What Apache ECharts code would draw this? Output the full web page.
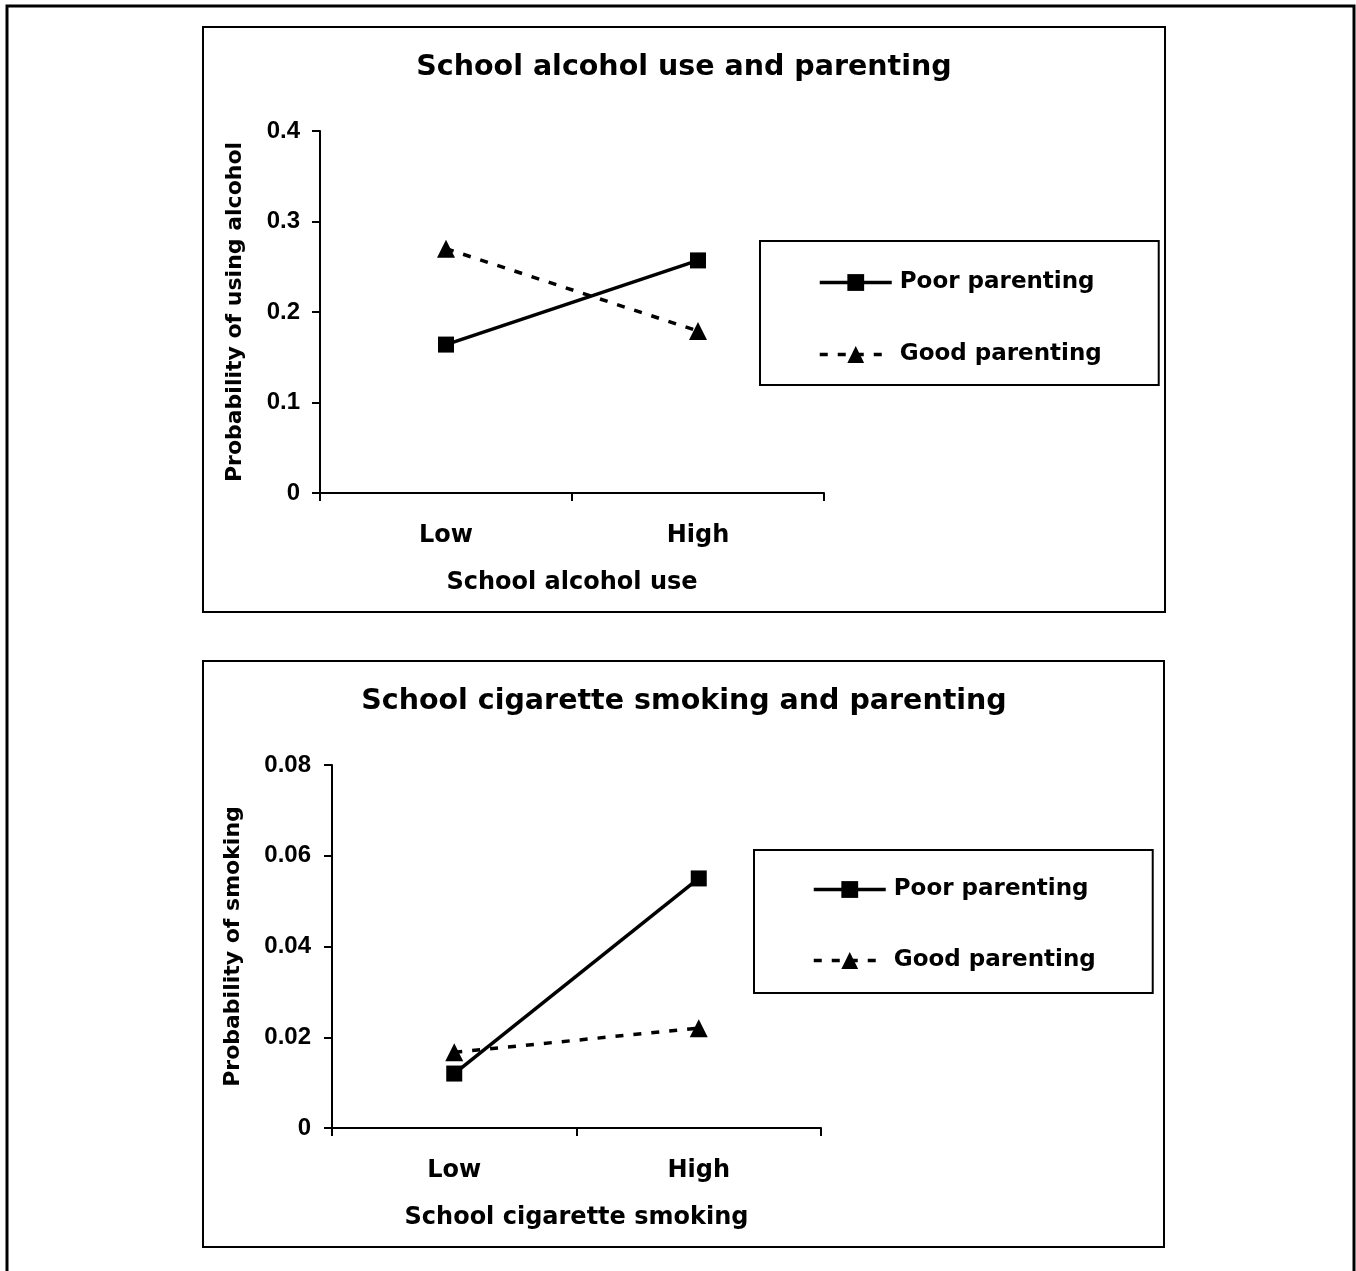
<!DOCTYPE html>
<html>
<head>
<meta charset="utf-8">
<title>School alcohol use, cigarette smoking and parenting</title>
<script src="https://cdn.jsdelivr.net/npm/echarts@6/dist/echarts.min.js"></script>
<style>
  html, body { margin: 0; padding: 0; background: #ffffff; }
  #chart { width: 1356px; height: 1271px; }
</style>
</head>
<body>
<div id="chart"></div>
<script>
// School-level exposure categories (x axis of both panels)
const levels = ['Low', 'High'];

// Predicted probability of using alcohol
const alcoholPoor = [0.164, 0.257];
const alcoholGood = [0.270, 0.179];

// Predicted probability of smoking
const smokingPoor = [0.012, 0.055];
const smokingGood = [0.0167, 0.022];

// Value-axis ranges
const alcoholAxis = { min: 0, max: 0.4, interval: 0.1 };
const smokingAxis = { min: 0, max: 0.08, interval: 0.02 };

const seriesNames = ['Poor parenting', 'Good parenting'];

const FONT = 'DejaVu Sans';
const TICK_FONT = 'Liberation Sans';
const BLACK = '#000000';

function valueAxis(range, gridIndex, name, nameGap, labelMargin) {
  return {
    type: 'value', gridIndex, min: range.min, max: range.max, interval: range.interval,
    name, nameLocation: 'middle', nameGap,
    nameTextStyle: { fontFamily: FONT, fontWeight: 'bold', fontSize: 22, color: BLACK },
    axisLine: { show: true, lineStyle: { color: BLACK, width: 2 } },
    axisTick: { show: true, length: 8, lineStyle: { color: BLACK, width: 2 } },
    axisLabel: { fontFamily: TICK_FONT, fontWeight: 'bold', fontSize: 24, color: BLACK, margin: labelMargin },
    splitLine: { show: false }
  };
}

function categoryAxis(gridIndex, name) {
  return {
    type: 'category', gridIndex, data: levels, boundaryGap: true,
    name, nameLocation: 'middle', nameGap: 78,
    nameTextStyle: { fontFamily: FONT, fontWeight: 'bold', fontSize: 24, color: BLACK },
    axisLine: { show: true, lineStyle: { color: BLACK, width: 2 } },
    axisTick: { show: true, length: 8, alignWithLabel: false, lineStyle: { color: BLACK, width: 2 } },
    axisLabel: { fontFamily: FONT, fontWeight: 'bold', fontSize: 24, color: BLACK, margin: 31 }
  };
}

function poorSeries(axisIndex, values) {
  return {
    name: seriesNames[0], type: 'line', xAxisIndex: axisIndex, yAxisIndex: axisIndex,
    data: values, symbol: 'rect', symbolSize: 16,
    itemStyle: { color: BLACK },
    lineStyle: { color: BLACK, width: 3.5, type: 'solid' },
    emphasis: { disabled: true }, animation: false
  };
}

function goodSeries(axisIndex, values) {
  return {
    name: seriesNames[1], type: 'line', xAxisIndex: axisIndex, yAxisIndex: axisIndex,
    data: values, symbol: 'triangle', symbolSize: 18,
    itemStyle: { color: BLACK },
    lineStyle: { color: BLACK, width: 3.5, type: [8, 10] },
    emphasis: { disabled: true }, animation: false
  };
}

function legendBox(left, top, padding, itemGap) {
  return {
    orient: 'vertical', left, top, padding, itemGap,
    itemWidth: 72, itemHeight: 21,
    borderColor: BLACK, borderWidth: 2, backgroundColor: '#ffffff',
    data: seriesNames, selectedMode: false,
    lineStyle: { width: 3.5 },
    textStyle: { fontFamily: FONT, fontWeight: 'bold', fontSize: 23, color: BLACK, padding: [0, 0, 0, 3] }
  };
}

const titleStyle = { fontFamily: FONT, fontWeight: 'bold', fontSize: 28.5, color: BLACK };

const option = {
  backgroundColor: '#ffffff',
  animation: false,
  title: [
    { text: 'School alcohol use and parenting', left: 684, top: 53, textAlign: 'center', padding: 0, textStyle: titleStyle },
    { text: 'School cigarette smoking and parenting', left: 684, top: 687, textAlign: 'center', padding: 0, textStyle: titleStyle }
  ],
  graphic: [
    // outer frame and the two panel frames
    { type: 'rect', shape: { x: 7, y: 6, width: 1347, height: 1300 }, style: { fill: 'none', stroke: BLACK, lineWidth: 3 }, z: -10 },
    { type: 'rect', shape: { x: 203, y: 27, width: 962, height: 585 }, style: { fill: 'none', stroke: BLACK, lineWidth: 2 }, z: -10 },
    { type: 'rect', shape: { x: 203, y: 661, width: 961, height: 586 }, style: { fill: 'none', stroke: BLACK, lineWidth: 2 }, z: -10 }
  ],
  legend: [
    legendBox(760, 241, [30, 57, 19, 58], 49),
    legendBox(754, 850, [28, 57, 21, 58], 48)
  ],
  grid: [
    { left: 320, top: 131, width: 504, height: 362, outerBoundsMode: 'none' },
    { left: 332, top: 765, width: 489, height: 363, outerBoundsMode: 'none' }
  ],
  xAxis: [
    categoryAxis(0, 'School alcohol use'),
    categoryAxis(1, 'School cigarette smoking')
  ],
  yAxis: [
    valueAxis(alcoholAxis, 0, 'Probability of using alcohol', 74, 20),
    valueAxis(smokingAxis, 1, 'Probability of smoking', 88, 21)
  ],
  series: [
    poorSeries(0, alcoholPoor),
    goodSeries(0, alcoholGood),
    poorSeries(1, smokingPoor),
    goodSeries(1, smokingGood)
  ]
};

const chart = echarts.init(document.getElementById('chart'), null, { renderer: 'canvas' });
chart.setOption(option);
</script>
</body>
</html>
